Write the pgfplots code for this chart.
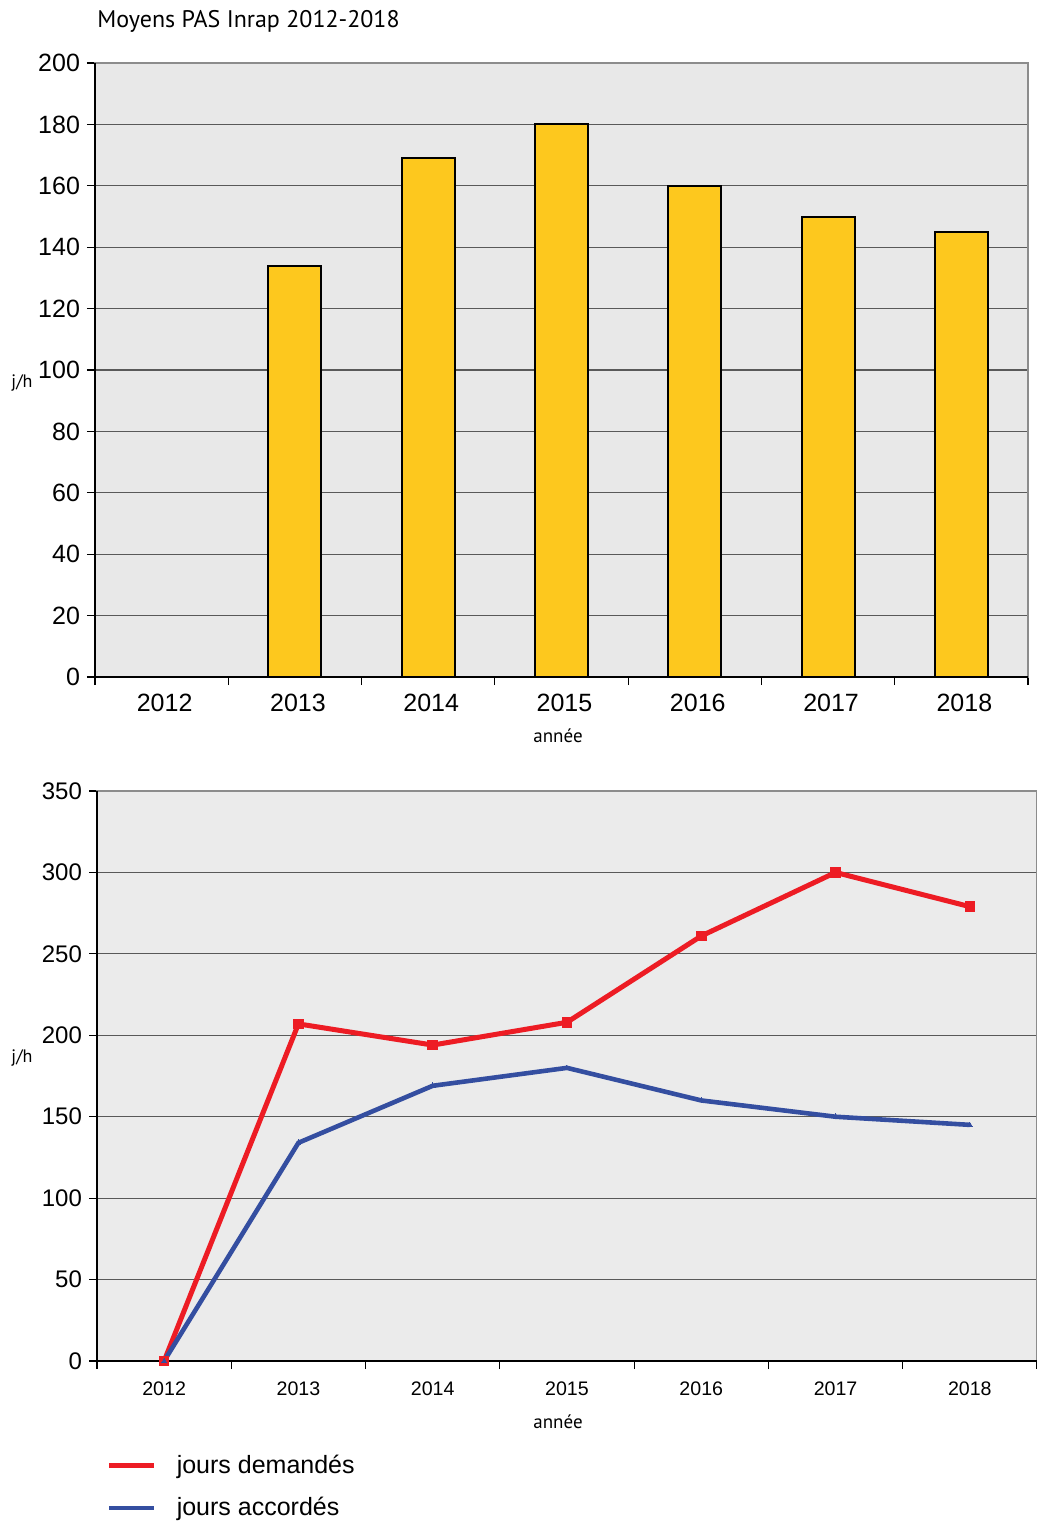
\documentclass[border=0pt]{standalone}
\usepackage{pgfplots}
\pgfplotsset{compat=1.18}
\usepackage{fontspec}
\setmainfont{Liberation Sans}
\newfontfamily\myriad{PT Sans}
\definecolor{barfill}{RGB}{253,200,30}
\definecolor{bgtop}{RGB}{232,232,232}
\definecolor{bgbot}{RGB}{235,235,235}
\definecolor{redline}{RGB}{237,28,36}
\definecolor{blueline}{RGB}{52,78,160}

% shared look of both panels
\pgfplotsset{
  panel/.style={
    scale only axis,
    xmin=-0.5, xmax=6.5, ymin=0,
    xtick={0,...,6},
    xticklabels={2012,2013,2014,2015,2016,2017,2018},
    minor xtick={-0.5,0.5,...,6.5},
    major x tick style={draw=none},
    xtick pos=bottom, ytick pos=left,
    tick align=outside,
    major tick length=4pt, minor tick length=4pt,
    tick style={black, line width=0.6pt},
    ymajorgrids,
    major grid style={black!65, line width=0.6pt},
    axis line style={draw=black!45, line width=0.8pt},
    /pgf/number format/assume math mode=true,
    clip=false,
  },
}

\begin{document}
\begin{tikzpicture}
\useasboundingbox (0,0) rectangle (518.5pt,-760.5pt);

\node[anchor=base west, inner sep=0pt, font=\myriad\fontsize{12}{14}\selectfont]
  at (48.5pt,-13.5pt) {Moyens PAS Inrap 2012-2018};

% ---- top panel: bars ----
\begin{axis}[
  panel,
  at={(47.5pt,-338.5pt)}, anchor=south west,
  width=466.5pt, height=307pt,
  ymax=200, ytick={0,20,...,200},
  axis background/.style={fill=bgtop},
  ticklabel style={font=\fontsize{12.5}{14}\selectfont},
  xticklabel style={yshift=-1pt, xshift=1.5pt},
]
\addplot[ybar, bar width=26.5pt, fill=barfill, draw=black, line width=1pt]
coordinates {
(1,134)
(2,169)
(3,180)
(4,160)
(5,150)
(6,145)
};
\draw[black, line width=0.9pt] (rel axis cs:0,1) -- (rel axis cs:0,0) -- (rel axis cs:1,0);
\end{axis}
\node[font=\myriad\fontsize{9.5}{10}\selectfont] at (279pt,-368pt) {année};
\node[font=\myriad\fontsize{9}{10}\selectfont] at (11pt,-191.5pt) {j/h};

% ---- bottom panel: lines ----
\begin{axis}[
  panel,
  at={(48.5pt,-680.5pt)}, anchor=south west,
  width=470pt, height=285pt,
  ymax=350, ytick={0,50,...,350},
  axis background/.style={fill=bgbot},
  yticklabel style={font=\fontsize{12}{14}\selectfont},
  xticklabel style={font=\fontsize{9.8}{12}\selectfont, yshift=-3pt},
  legend style={at={(0.01,-0.157)}, anchor=north west, draw=none, fill=none,
    inner sep=0pt, row sep=6.5pt,
    font=\fontsize{12.5}{14}\selectfont},
  legend cell align=left,
  legend image code/.code={\draw[#1, mark=none] (0pt,0pt) -- (22.5pt,0pt);},
]
\addplot[redline, line width=2.5pt, mark=square*, mark size=2.4pt,
  mark options={line width=0pt}]
coordinates {
(0,0)
(1,207)
(2,194)
(3,208)
(4,261)
(5,300)
(6,279)
};
\addlegendentry{\hspace{8pt}jours demandés}
\addplot[blueline, line width=2.3pt, mark=triangle*, mark size=1.4pt,
  mark options={line width=0pt}]
coordinates {
(0,0)
(1,134)
(2,169)
(3,180)
(4,160)
(5,150)
(6,145)
};
\addlegendentry{\hspace{8pt}jours accordés}
\draw[black, line width=0.9pt] (rel axis cs:0,1) -- (rel axis cs:0,0) -- (rel axis cs:1,0);
\end{axis}
\node[font=\myriad\fontsize{9.5}{10}\selectfont] at (279pt,-711pt) {année};
\node[font=\myriad\fontsize{9}{10}\selectfont] at (11pt,-529pt) {j/h};
\end{tikzpicture}
\end{document}
